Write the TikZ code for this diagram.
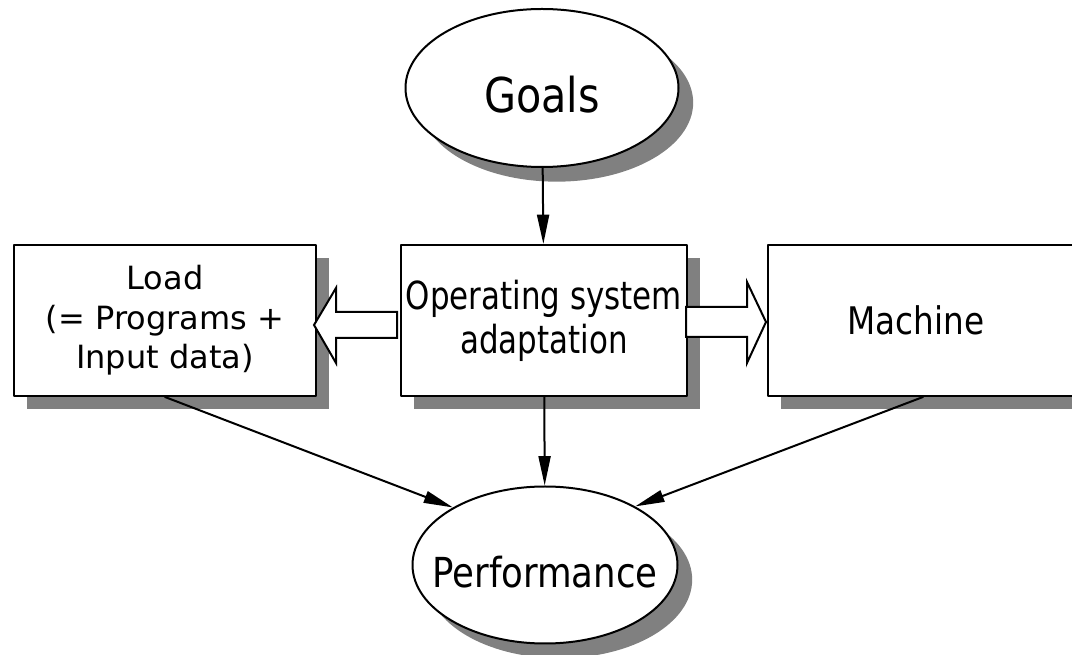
\documentclass[tikz,border=0pt]{standalone}
\usepackage{fontspec}
\setmainfont{DejaVu Sans}[FakeStretch=0.86]
\newfontfamily\widesans{DejaVu Sans}
\usetikzlibrary{calc,shapes.geometric,shadows,arrows.meta}
\definecolor{shadowgray}{RGB}{128,128,128}
\def\px{0.75pt}
\tikzset{
    oval/.style={
        ellipse, draw, fill=white, line width=1.5pt, inner sep=0pt, text depth=0pt,
        drop shadow={shadow xshift=11pt, shadow yshift=-11pt, fill=shadowgray, opacity=1}
    },
    blk/.style={
        rectangle, draw, fill=white, line width=1.5pt, inner sep=0pt,
        minimum height=151*\px, align=center,
        drop shadow={shadow xshift=10pt, shadow yshift=-10pt, fill=shadowgray, opacity=1}
    },
    conn/.style={line width=1.5pt, -{Triangle[length=22pt,width=9pt]}},
    fatarrow/.style={draw, fill=white, line width=1.5pt, line join=miter}
}

\begin{document}
\begin{tikzpicture}[x=\px, y=-\px, line cap=round, line join=round]

% --- frame (coordinates in pixels of the reference, y downwards) ---
    \useasboundingbox (0,0) rectangle (1072,655);
    \clip (0,0) rectangle (1072,655);

% goals and performance
    \node[oval, minimum width=273*\px, minimum height=158*\px, text height=37.5pt,
          font=\fontsize{36}{40}\selectfont] (goals) at (542,88) {\makebox[0pt]{Goals}};
    \node[oval, minimum width=265*\px, minimum height=157*\px, text height=34.5pt,
          font=\fontsize{31}{36}\selectfont] (perf) at (545,565) {\makebox[0pt]{Performance}};

% the three boxes
    \node[blk, minimum width=302*\px, font=\widesans\fontsize{24}{29.6}\selectfont] (load) at (165,320.5)
        {Load\\(= Programs +\\Input data)};
    \node[blk, minimum width=286*\px, font=\fontsize{29}{33}\selectfont] (os) at (544,320.5)
        {\scalebox{0.93}[1]{Operating system}\\\scalebox{0.93}[1]{adaptation}};
    \node[blk, minimum width=310*\px, font=\fontsize{28.5}{32}\selectfont] (mach) at (923,320.5)
        {\hspace*{-10.5pt}Machine};

% thin connectors
    \draw[conn] (goals) -- (os);
    \draw[conn] (os) -- (perf);
    \draw[conn] (load.south) -- (perf.148);
    \draw[conn] (mach.south) -- (perf.33);

% block arrows out of the middle box
    \draw[fatarrow] ($(os.west)+(-3,-8.5)$) -- ($(load.east)+(19,-8.5)$) -- ($(load.east)+(19,-32.5)$)
        -- ($(load.east)+(-3,4.5)$) -- ($(load.east)+(19,42.5)$) -- ($(load.east)+(19,17.5)$)
        -- ($(os.west)+(-3,17.5)$) -- cycle;
    \draw[fatarrow] ($(os.east)+(-2,-13.5)$) -- ($(mach.west)+(-20,-13.5)$) -- ($(mach.west)+(-20,-38.5)$)
        -- ($(mach.west)+(-1,1.5)$) -- ($(mach.west)+(-20,42.5)$) -- ($(mach.west)+(-20,16.5)$)
        -- ($(os.east)+(-2,16.5)$) -- cycle;

\end{tikzpicture}
\end{document}
